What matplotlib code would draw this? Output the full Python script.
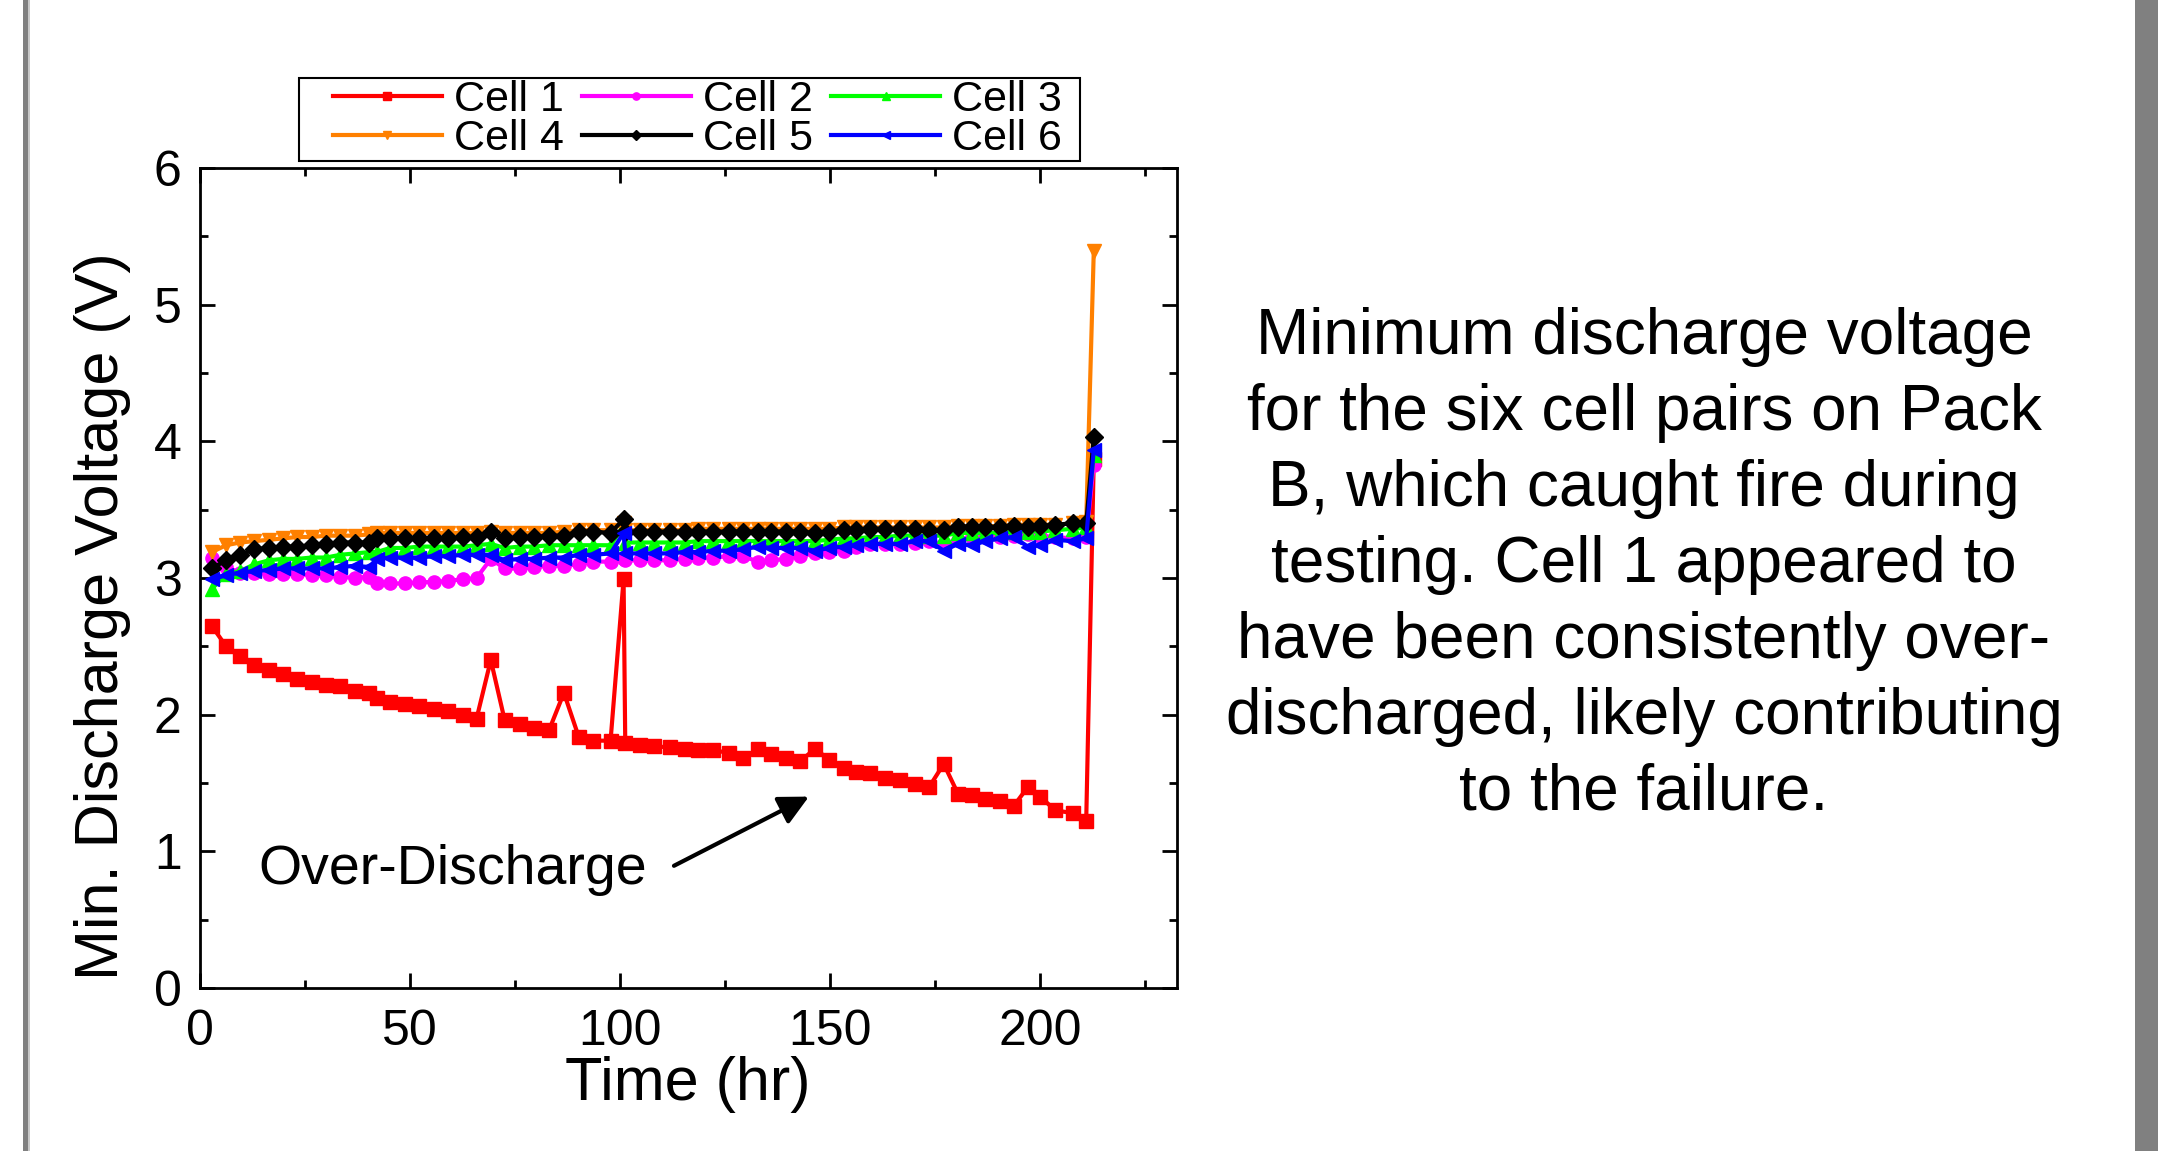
""" Plot minimum discharge voltage of the six cell pairs on Pack B """

import matplotlib
matplotlib.use("Agg")
import matplotlib.pyplot as plt
from matplotlib.patches import Rectangle

plt.rcParams['font.family'] = ['Liberation Sans', 'DejaVu Sans']

# time of each discharge (hr)
time_hr = [2.9, 6.3, 9.6, 13.0, 16.5, 19.9, 23.2, 26.7, 30.1, 33.5,
	37.0, 40.4, 42.1, 45.4, 48.9, 52.3, 55.7, 59.2, 62.6, 65.9,
	69.3, 72.6, 76.2, 79.6, 83.2, 86.7, 90.2, 93.6, 97.8, 100.9,
	101.3, 104.8, 108.1, 111.9, 115.4, 118.6, 122.3, 126.0, 129.3, 132.9,
	136.1, 139.6, 143.0, 146.4, 149.9, 153.3, 156.3, 159.6, 163.2, 166.6,
	170.2, 173.6, 177.1, 180.5, 183.9, 187.0, 190.6, 193.7, 197.1, 200.1,
	203.6, 207.8, 211.0, 212.8]

cell_1 = [2.65, 2.50, 2.43, 2.36, 2.33, 2.30, 2.26, 2.24, 2.22, 2.21,
	2.17, 2.16, 2.12, 2.09, 2.08, 2.06, 2.04, 2.03, 2.00, 1.97,
	2.40, 1.96, 1.93, 1.90, 1.89, 2.16, 1.84, 1.81, 1.81, 2.99,
	1.79, 1.78, 1.77, 1.76, 1.75, 1.74, 1.74, 1.72, 1.68, 1.75,
	1.71, 1.68, 1.66, 1.75, 1.67, 1.61, 1.58, 1.57, 1.54, 1.52,
	1.49, 1.47, 1.64, 1.42, 1.41, 1.38, 1.37, 1.33, 1.47, 1.40,
	1.30, 1.28, 1.22, 3.87]

cell_2 = [3.15, 3.08, 3.04, 3.04, 3.03, 3.03, 3.03, 3.02, 3.02, 3.01,
	3.00, 3.01, 2.96, 2.96, 2.96, 2.97, 2.97, 2.98, 2.99, 3.00,
	3.14, 3.07, 3.07, 3.08, 3.09, 3.09, 3.10, 3.12, 3.12, 3.14,
	3.13, 3.13, 3.13, 3.13, 3.14, 3.15, 3.15, 3.16, 3.16, 3.12,
	3.13, 3.14, 3.16, 3.18, 3.19, 3.20, 3.23, 3.25, 3.25, 3.25,
	3.26, 3.27, 3.25, 3.28, 3.30, 3.30, 3.30, 3.31, 3.32, 3.31,
	3.30, 3.29, 3.30, 3.83]

cell_3 = [2.92, 3.03, 3.05, 3.10, 3.13, 3.14, 3.14, 3.15, 3.15, 3.17,
	3.18, 3.19, 3.19, 3.22, 3.22, 3.23, 3.23, 3.23, 3.23, 3.24,
	3.25, 3.22, 3.23, 3.23, 3.24, 3.24, 3.24, 3.24, 3.24, 3.38,
	3.26, 3.26, 3.26, 3.26, 3.26, 3.27, 3.27, 3.27, 3.27, 3.27,
	3.27, 3.27, 3.27, 3.27, 3.28, 3.29, 3.29, 3.30, 3.30, 3.31,
	3.31, 3.31, 3.31, 3.33, 3.33, 3.33, 3.33, 3.34, 3.34, 3.34,
	3.35, 3.36, 3.37, 3.90]

cell_4 = [3.19, 3.24, 3.26, 3.27, 3.28, 3.29, 3.30, 3.30, 3.31, 3.31,
	3.31, 3.32, 3.33, 3.33, 3.33, 3.33, 3.33, 3.33, 3.33, 3.33,
	3.34, 3.33, 3.33, 3.33, 3.33, 3.34, 3.35, 3.35, 3.35, 3.40,
	3.35, 3.35, 3.35, 3.35, 3.35, 3.36, 3.36, 3.36, 3.36, 3.36,
	3.36, 3.36, 3.36, 3.36, 3.36, 3.37, 3.37, 3.37, 3.37, 3.37,
	3.37, 3.37, 3.37, 3.38, 3.38, 3.38, 3.38, 3.39, 3.39, 3.39,
	3.39, 3.40, 3.41, 5.39]

cell_5 = [3.07, 3.13, 3.17, 3.21, 3.22, 3.23, 3.23, 3.24, 3.25, 3.26,
	3.26, 3.26, 3.29, 3.29, 3.29, 3.29, 3.29, 3.29, 3.30, 3.30,
	3.34, 3.29, 3.30, 3.30, 3.31, 3.31, 3.34, 3.34, 3.33, 3.43,
	3.34, 3.34, 3.34, 3.34, 3.34, 3.34, 3.34, 3.34, 3.34, 3.34,
	3.34, 3.34, 3.34, 3.33, 3.34, 3.35, 3.35, 3.36, 3.36, 3.36,
	3.36, 3.35, 3.35, 3.37, 3.37, 3.37, 3.37, 3.38, 3.37, 3.38,
	3.39, 3.40, 3.40, 4.03]

cell_6 = [2.99, 3.02, 3.04, 3.05, 3.06, 3.07, 3.07, 3.07, 3.07, 3.08,
	3.09, 3.08, 3.14, 3.15, 3.15, 3.15, 3.16, 3.16, 3.17, 3.17,
	3.17, 3.13, 3.14, 3.14, 3.15, 3.15, 3.17, 3.17, 3.18, 3.33,
	3.18, 3.18, 3.18, 3.18, 3.19, 3.19, 3.20, 3.20, 3.21, 3.23,
	3.22, 3.22, 3.22, 3.20, 3.22, 3.23, 3.24, 3.25, 3.25, 3.25,
	3.27, 3.27, 3.20, 3.25, 3.24, 3.27, 3.29, 3.30, 3.23, 3.24,
	3.28, 3.27, 3.29, 3.94]

cell_names = ["Cell 1", "Cell 2", "Cell 3", "Cell 4", "Cell 5", "Cell 6"]
cell_colors = ['#ff0000', '#ff00ff', '#00ff00', '#ff8000', '#000000', '#0000ff']
cell_markers = ['s', 'o', '^', 'v', 'D', '<']
cell_sizes = [10, 9.5, 10.5, 10.5, 9, 10.5]

caption = ("Minimum discharge voltage\n"
	"for the six cell pairs on Pack\n"
	"B, which caught fire during\n"
	"testing. Cell 1 appeared to\n"
	"have been consistently over-\n"
	"discharged, likely contributing\n"
	"to the failure.")

W, H = 2158, 1151
fig = plt.figure(figsize=(W / 100, H / 100), dpi=100)
fig.patch.set_facecolor('white')

# grey side bars of the slide
fig.patches.append(Rectangle((23 / W, 0), 5 / W, 1, transform=fig.transFigure,
	facecolor='#808080', edgecolor='none'))
fig.patches.append(Rectangle((28 / W, 0), 2 / W, 1, transform=fig.transFigure,
	facecolor='#c8c8c8', edgecolor='none'))
fig.patches.append(Rectangle((2135 / W, 0), 23 / W, 1, transform=fig.transFigure,
	facecolor='#808080', edgecolor='none'))

ax = fig.add_axes([0.0925, 0.1416, 0.4527, 0.7124])

all_cells = [cell_1, cell_2, cell_3, cell_4, cell_5, cell_6]
handles = []
for i in range(6):
	h, = ax.plot(time_hr, all_cells[i], color=cell_colors[i], marker=cell_markers[i],
		markersize=cell_sizes[i], markeredgecolor=cell_colors[i], linewidth=3,
		label=cell_names[i])
	handles.append(h)

ax.set_xlim(0, 232.5)
ax.set_ylim(0, 6)
ax.set_xticks([0, 50, 100, 150, 200])
ax.set_xticks([25, 75, 125, 175, 225], minor=True)
ax.set_yticks([0, 1, 2, 3, 4, 5, 6])
ax.set_yticks([0.5, 1.5, 2.5, 3.5, 4.5, 5.5], minor=True)
ax.tick_params(which='both', direction='in', top=True, right=True, width=2, labelsize=36)
ax.tick_params(which='major', length=11)
ax.tick_params(which='minor', length=5.5)
ax.tick_params(axis='x', pad=15)
ax.tick_params(axis='y', pad=13)
for s in ax.spines.values():
	s.set_linewidth(2)

ax.set_xlabel("Time (hr)", fontsize=44, labelpad=1)
ax.set_ylabel("Min. Discharge Voltage (V)", fontsize=44)
ax.yaxis.set_label_coords(-0.07, 0.454)

ax.annotate('', xy=(145.6, 1.41), xytext=(112.3, 0.885),
	arrowprops=dict(arrowstyle='-|>', lw=3, color='black', mutation_scale=45))
ax.text(14.1, 0.86, "Over-Discharge", fontsize=40, ha='left', va='center')

# legend rows: Cell 1-3 on top, Cell 4-6 below
order = [0, 3, 1, 4, 2, 5]
leg = fig.legend([handles[k] for k in order], [cell_names[k] for k in order],
	ncol=3, loc='center', bbox_to_anchor=(0.3232, 0.8962), fontsize=31,
	frameon=False, markerscale=0.55,
	handlelength=2.53, handletextpad=0.28, columnspacing=0.42, labelspacing=-0.04,
	borderpad=0.05)
# legend box, a bit wider than the entries
fig.patches.append(Rectangle((299 / W, 1 - 161 / H), 781 / W, 83 / H,
	transform=fig.transFigure, facecolor='none', edgecolor='black', linewidth=1.5))

fig.text(1644 / W, 1 - 565 / H, caption, fontsize=46, ha='center', va='center',
	multialignment='center', linespacing=1.34)

fig.savefig("out.png", dpi=100)
